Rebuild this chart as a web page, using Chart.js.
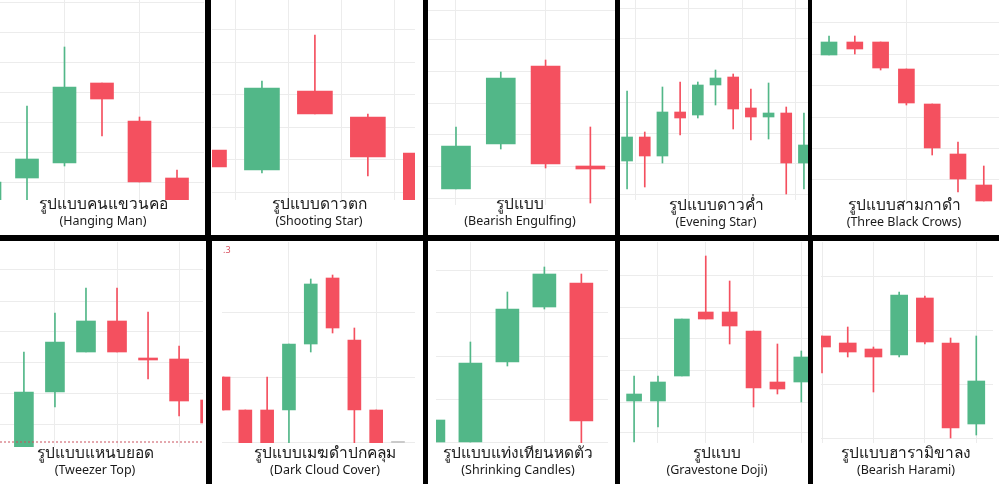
<!DOCTYPE html>
<html><head><meta charset="utf-8">
<script src="https://cdn.jsdelivr.net/npm/chart.js@4/dist/chart.umd.min.js"></script>
<style>
html,body{margin:0;padding:0;background:#fff;width:999px;height:484px;overflow:hidden;position:relative;font-family:"Noto Sans","DejaVu Sans",sans-serif;}
.box{position:absolute;}
.blk{position:absolute;background:#000;}
.th{position:absolute;font-size:15.5px;color:#1a1a1a;transform:translateX(-50%);white-space:nowrap;}
.en{position:absolute;font-size:12.5px;color:#1a1a1a;transform:translateX(-50%);white-space:nowrap;}
</style></head><body>
<script>
// Candle data: [open, high, low, close]
const hangingMan = [[40,60,38,58],[62,134,40,81],[77,193,74,153],[157,157,104,141],[119,123,58,58],[62,70,38,40]];
const shootingStar = [[90,90,73,73],[70,159,67,152],[149,205,126,126],[123,126,64,83],[87,87,38,40]];
const bearishEngulfing = [[51,113,51,94],[96,168,91,162],[174,180,72,76],[74,113,37,71]];
const eveningStar = [[79,149,51,103],[103,108,53,84],[84,153,77,128],[128,158,105,122],[125,158,122,155],[155,170,135,162],[163,166,111,131],[132,151,100,123],[123,157,101,127],[127,133,46,77],[77,127,51,95]];
const threeBlackCrows = [[185,204,185,198],[198,204,186,191],[198,198,170,172],[171,171,135,137],[136,136,85,92],[86,98,48,61],[55,74,39,39]];
const tweezerTop = [[37,132,37,92],[92,171,77,142],[132,196,132,163],[163,196,132,132],[126,172,105,124],[125,138,68,83],[84,84,61,61]];
const darkCloud = [[107,107,74,74],[74,74,38,38],[74,107,38,38],[74,140,38,140],[140,205,132,200],[206,209,151,156],[144,156,38,74],[74,74,38,38],[42,42,42,42]];
const shrinking = [[42,64,42,64],[42,142,42,121],[122,192,118,175],[177,217,175,210],[201,210,41,63]];
const gravestone = [[83,108,42,90],[83,108,57,102],[108,165,108,165],[172,228,165,165],[172,203,140,158],[153,153,77,96],[102,140,90,95],[102,133,82,127]];
const bearishHarami = [[148,148,111,137],[141,157,127,132],[135,137,92,127],[129,192,127,189],[186,188,140,142],[141,146,46,56],[60,148,49,103]];
const tweezerLevel = 42;

const thaiTitles = ["รูปแบบคนแขวนคอ","รูปแบบดาวตก","รูปแบบ","รูปแบบดาวค่ำ","รูปแบบสามกาดำ","รูปแบบแหนบยอด","รูปแบบเมฆดำปกคลุม","รูปแบบแท่งเทียนหดตัว","รูปแบบ","รูปแบบฮารามิขาลง"];
const engTitles = ["(Hanging Man)","(Shooting Star)","(Bearish Engulfing)","(Evening Star)","(Three Black Crows)","(Tweezer Top)","(Dark Cloud Cover)","(Shrinking Candles)","(Gravestone Doji)","(Bearish Harami)"];

const GREEN='#52b788', RED='#f4505f', GRID='#ececec';
const panels = [
 {d:hangingMan, r:[0,0,204,200], x:[0.28,5.72], y:[40,240], gx:[1,3,5], gy:[238,208,178,148,118,88,58], w:23, tx:103, ty:191},
 {d:shootingStar, r:[212,0,203,200], x:[0.057,3.89], y:[40,240], gx:[1,2,3], gy:[211,178,146,113,81,48], w:35, tx:319, ty:191},
 {d:bearishEngulfing, r:[428,0,187,205], x:[-0.625,3.55], y:[35,240], gx:[1,3], gy:[230,200,169,137,105,74,42], w:29, tx:520, ty:191},
 {d:eveningStar, r:[620,0,188,200], x:[-0.4,10.23], y:[40,240], gx:[2,5,8], gy:[232,201,169,138,107,77,46], w:11, tx:716, ty:192},
 {d:threeBlackCrows, r:[812,0,187,203], x:[-0.66,6.59], y:[37,240], gx:[1,5], gy:[217,186,155,123,92,61], w:16, tx:904, ty:192},
 {d:tweezerTop, r:[0,242,203,205], x:[-0.77,5.77], y:[37,242], gx:[0,2,4], gy:[215,183,152,122,91,60], w:19, tx:95, ty:440, level:tweezerLevel},
 {d:darkCloud, r:[222,242,193,201], x:[-0.07,8.78], y:[41,242], gx:[1,5], gy:[172,107,42], w:13, tx:325, ty:440},
 {d:shrinking, r:[436,242,172,201], x:[0.07,4.72], y:[41,242], gx:[2,4], gy:[214,171,127,85,42], w:23, tx:518, ty:440},
 {d:gravestone, r:[620,242,188,201], x:[-0.59,7.28], y:[41,242], gx:[0,2,4,6], gy:[209,177,146,114,82,52], w:15, tx:717, ty:440},
 {d:bearishHarami, r:[821,242,172,201], x:[-0.04,6.65], y:[41,242], gx:[1,3,5], gy:[208,154,100,46], w:17, tx:906, ty:440}
];

panels.forEach((p,k)=>{
  const div=document.createElement('div'); div.className='box';
  div.style.cssText=`left:${p.r[0]}px;top:${p.r[1]}px;width:${p.r[2]}px;height:${p.r[3]}px;`;
  const cv=document.createElement('canvas'); div.appendChild(cv); document.body.appendChild(div);
  const col=c=> c[3]>c[0]?GREEN:(c[3]<c[0]?RED:'#c8c8c8');
  const bodies=p.d.map((c,i)=>{let a=c[0],b=c[3]; if(Math.abs(a-b)<1.2){const m=(a+b)/2;a=m-0.6;b=m+0.6;} return {x:i,y:[a,b]};});
  const wicks=p.d.map((c,i)=>({x:i,y:[c[2],c[1]]}));
  const ds=[
    {type:'bar',data:wicks,backgroundColor:p.d.map(col),barThickness:1,grouped:false,order:2},
    {type:'bar',data:bodies,backgroundColor:p.d.map(col),barThickness:p.w,grouped:false,order:1}
  ];
  if(p.level!==undefined){
    ds.push({type:'line',data:[{x:p.x[0],y:p.level},{x:p.x[1],y:p.level}],borderColor:'#c9505c',borderWidth:1,borderDash:[2,2],pointRadius:0,order:0});
  }
  new Chart(cv,{data:{datasets:ds},options:{
    responsive:true,maintainAspectRatio:false,animation:false,events:[],
    layout:{padding:0},
    plugins:{legend:{display:false},tooltip:{enabled:false}},
    scales:{
      x:{type:'linear',min:p.x[0],max:p.x[1],offset:false,border:{display:false},
         ticks:{display:false},grid:{color:GRID,drawTicks:false},
         afterBuildTicks:s=>{s.ticks=p.gx.map(v=>({value:v}));}, afterFit:s=>{s.height=0;}},
      y:{min:p.y[0],max:p.y[1],border:{display:false},ticks:{display:false},grid:{color:GRID,drawTicks:false},
         afterBuildTicks:s=>{s.ticks=p.gy.map(v=>({value:v}));}, afterFit:s=>{s.width=0;}}
    }}});
  const t=document.createElement('div'); t.className='th'; t.textContent=thaiTitles[k];
  t.style.left=p.tx+'px'; t.style.top=p.ty+'px'; document.body.appendChild(t);
  const e=document.createElement('div'); e.className='en'; e.textContent=engTitles[k];
  e.style.left=p.tx+'px'; e.style.top=(p.ty+21)+'px'; document.body.appendChild(e);
});
const lbl=document.createElement('div');lbl.textContent='.3';
lbl.style.cssText='position:absolute;left:223px;top:243px;font-size:9px;color:#d9505f;';
document.body.appendChild(lbl);
// borders
[[205,0,6,236],[423,0,5,236],[615,0,5,236],[808,0,4,236],[0,235,999,6],[206,241,6,243],[423,241,5,243],[615,241,5,243],[808,241,5,243]].forEach(b=>{
  const d=document.createElement('div');d.className='blk';
  d.style.cssText=`left:${b[0]}px;top:${b[1]}px;width:${b[2]}px;height:${b[3]}px;`;document.body.appendChild(d);});
</script>
</body></html>
